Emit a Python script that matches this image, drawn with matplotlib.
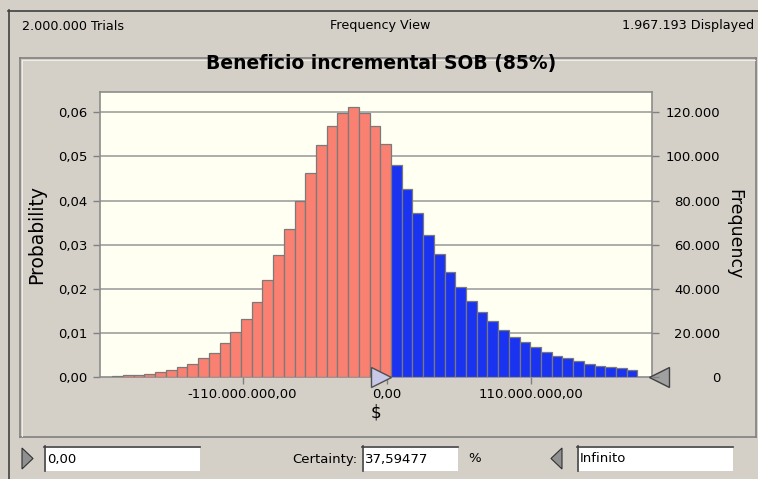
import numpy as np
import matplotlib
matplotlib.use("Agg")
import matplotlib.pyplot as plt
from matplotlib.patches import Rectangle, Polygon
from matplotlib.lines import Line2D
import matplotlib.transforms as mtransforms

plt.rcParams['font.family'] = ['DejaVu Sans']

# histogram data (probability per bin)
bin_start = -209.3e6
bin_width = 8.17e6
prob_below = [0.00015, 0.0004, 0.00045, 0.00075, 0.00105, 0.0017, 0.0023, 0.003,
              0.0043, 0.0054, 0.0076, 0.0101, 0.0132, 0.017, 0.0219, 0.0276,
              0.0335, 0.040, 0.0463, 0.0525, 0.0569, 0.0598, 0.0613, 0.0598,
              0.0569, 0.0528]
prob_above = [0.0480, 0.0425, 0.0372, 0.0322, 0.0278, 0.0238, 0.0203, 0.0172,
              0.0148, 0.0126, 0.0107, 0.0091, 0.0079, 0.0067, 0.0057, 0.0048,
              0.0042, 0.0036, 0.0030, 0.0026, 0.0023, 0.0020, 0.0017]
trials = 2000000
x_ticks = [-110e6, 0, 110e6]
x_ticklabels = ['-110.000.000,00', '0,00', '110.000.000,00']
p_ticks = [0.0, 0.01, 0.02, 0.03, 0.04, 0.05, 0.06]
f_ticks = [0, 20000, 40000, 60000, 80000, 100000, 120000]

W, H = 758, 479
bg = '#D4D0C8'
fig = plt.figure(figsize=(W / 100, H / 100), dpi=100, facecolor=bg)


def fx(x):
    return x / W


def fy(y):
    return 1 - y / H


def fline(x0, y0, x1, y1, color, lw=1.0):
    fig.add_artist(Line2D([fx(x0), fx(x1)], [fy(y0), fy(y1)], color=color,
                          lw=lw, transform=fig.transFigure))


# outer frame
fline(8, 10.5, 758, 10.5, '#404040', 1.2)
fline(8.5, 10, 8.5, 479, '#404040', 1.2)
# inner panel (etched border)
fline(20, 58, 756, 58, '#808080', 1.2)
fline(20, 58, 20, 437, '#808080', 1.2)
fline(20, 437, 756, 437, '#808080', 1.2)
fline(756, 58, 756, 437, '#808080', 1.2)
fline(21.5, 59.5, 754.5, 59.5, '#F0EEE8', 0.7)
fline(21.5, 59.5, 21.5, 435.5, '#F0EEE8', 0.7)

# header
fig.text(fx(22), fy(26), '2.000.000 Trials', fontsize=9.2, va='center', ha='left')
fig.text(fx(380), fy(26), 'Frequency View', fontsize=9.2, va='center', ha='center')
fig.text(fx(754), fy(26), '1.967.193 Displayed', fontsize=9.2, va='center', ha='right')
fig.text(fx(381), fy(64), 'Beneficio incremental SOB (85%)', fontsize=13.5,
         fontweight='bold', va='center', ha='center')

# main axes
ax = fig.add_axes([fx(100), fy(377), (652 - 100) / W, (377 - 92) / H])
ax.set_facecolor('#FFFFF2')
probs = prob_below + prob_above
n = len(probs)
edges = bin_start + bin_width * np.arange(n)
colors = ['#FA8072'] * len(prob_below) + ['#1A33F0'] * len(prob_above)
ax.bar(edges, probs, width=bin_width, align='edge', color=colors,
       edgecolor='#7A7A7A', linewidth=0.9, zorder=3)
ax.set_xlim(-218.7e6, 202.1e6)
ax.set_ylim(0, 0.0646)
ax.set_axisbelow(True)
for v in p_ticks[1:]:
    ax.axhline(v, color='#A0A0A0', lw=1.2, zorder=1)
ax.set_yticks(p_ticks)
ax.set_yticklabels([f'{v:.2f}'.replace('.', ',') for v in p_ticks])
ax.set_xticks(x_ticks)
ax.set_xticklabels(x_ticklabels)
ax.tick_params(axis='both', colors='#808080', labelcolor='black', labelsize=9.5,
               length=5, width=1)
ax.tick_params(axis='y', pad=4)
ax.tick_params(axis='x', pad=3)
for s in ax.spines.values():
    s.set_color('#8C8C8C')
    s.set_linewidth(1.2)
ax.set_xlabel('$', fontsize=12, labelpad=2)
ax.set_ylabel('Probability', fontsize=13.5, labelpad=9)

ax2 = ax.twinx()
ax2.set_ylim(0, 0.0646 * trials)
ax2.set_yticks(f_ticks)
ax2.set_yticklabels([f'{v:,}'.replace(',', '.') for v in f_ticks])
ax2.tick_params(axis='y', colors='#808080', labelcolor='black', labelsize=9.5,
                length=5, width=1, pad=44)
for lab in ax2.get_yticklabels():
    lab.set_horizontalalignment('right')
for s in ax2.spines.values():
    s.set_visible(False)
ax2.set_ylabel('Frequency', fontsize=12.5, rotation=-90, labelpad=17)

# sliders on the axes
off_l = mtransforms.ScaledTranslation(-6 / 100, 0, fig.dpi_scale_trans)
ax.plot([0], [0], marker='>', markersize=14, color='#C8C8E8', mec='#505050',
        mew=1, clip_on=False, zorder=6, transform=ax.transData + off_l)
off_r = mtransforms.ScaledTranslation(7 / 100, 0, fig.dpi_scale_trans)
ax.plot([1], [0], marker='<', markersize=14, color='#A0A0A0', mec='#404040',
        mew=1, clip_on=False, zorder=6, transform=ax.transAxes + off_r)


# bottom controls
def textbox(x0, x1, text):
    fig.add_artist(Rectangle((fx(x0), fy(471)), fx(x1) - fx(x0), fy(446) - fy(471),
                             facecolor='white', edgecolor='none',
                             transform=fig.transFigure))
    fline(x0, 446.5, x1, 446.5, '#404040', 1.2)
    fline(x0 + 0.5, 446, x0 + 0.5, 471, '#404040', 1.2)
    fig.text(fx(x0 + 3), fy(459), text, fontsize=9.5, va='center', ha='left')


def tri(xs, ys):
    fig.add_artist(Polygon([[fx(a), fy(b)] for a, b in zip(xs, ys)], closed=True,
                           facecolor='#909090', edgecolor='#303030', lw=0.8,
                           transform=fig.transFigure))


tri([22, 33, 22], [448, 458.5, 469])
textbox(44, 200, '0,00')
fig.text(fx(357), fy(459), 'Certainty:', fontsize=9.5, va='center', ha='right')
textbox(362, 458, '37,59477')
fig.text(fx(468), fy(459), '%', fontsize=9.5, va='center', ha='left')
tri([562, 551, 562], [448, 458.5, 469])
textbox(577, 733, 'Infinito')

fig.savefig('out.png', dpi=100, facecolor=bg)
